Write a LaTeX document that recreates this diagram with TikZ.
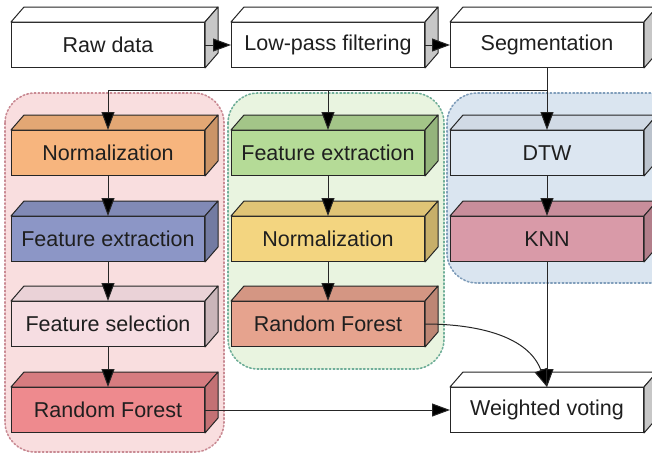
\documentclass[tikz,border=0pt]{standalone}
\usepackage{fontspec}
\setmainfont{Liberation Sans}
\usepackage{tikz}
\usetikzlibrary{arrows.meta}
\definecolor{nrmL}{HTML}{F7B57E}
\definecolor{fexL}{HTML}{8C96C6}
\definecolor{fselL}{HTML}{F6DDE2}
\definecolor{rfL}{HTML}{EE8A8E}
\definecolor{fexM}{HTML}{B5DB97}
\definecolor{nrmM}{HTML}{F3D580}
\definecolor{rfM}{HTML}{E6A38E}
\definecolor{dtwC}{HTML}{DCE6F1}
\definecolor{knnC}{HTML}{D99AA8}
\definecolor{grpRed}{HTML}{F9DEDF}
\definecolor{grpRedB}{HTML}{C98A93}
\definecolor{grpGreen}{HTML}{E9F4E0}
\definecolor{grpGreenB}{HTML}{6FAE98}
\definecolor{grpBlue}{HTML}{DAE5F0}
\definecolor{grpBlueB}{HTML}{7F9DBA}
\tikzset{
  cube/.style={draw=black!85, line width=1pt, fill=#1, minimum width=193pt,
    minimum height=45pt, inner sep=0pt, text=black!88,
    font=\fontsize{21.5}{24}\selectfont},
  face/.style={draw=black!85, line width=1pt, line join=round},
  group/.style={line width=1.6pt, dash pattern=on 1.6pt off 2.2pt, line cap=round, rounded corners=30pt},
  link/.style={->, line width=1pt, draw=black!85}
}

\begin{document}
\begin{tikzpicture}[x=1pt,y=-1pt,>={Triangle[length=18pt,width=13pt,fill=black]}]
\useasboundingbox (0,0) rectangle (652,456);
% groups
\draw [group, fill=grpRed, draw=grpRedB] (5,93) rectangle (224,452);
\draw [group, fill=grpGreen, draw=grpGreenB] (228,93) rectangle (444,369);
\draw [group, fill=grpBlue, draw=grpBlueB] (447,93) rectangle (680,283);
% top row
\node [cube=white] (raw) at (108,45) {Raw data};
\node [cube=white] (lowpass) at (328,45) {Low-pass filtering};
\node [cube=white] (seg) at (547,45) {Segmentation};
% left column
\node [cube=nrmL] (nrmA) at (108,153) {Normalization};
\node [cube=fexL] (fexA) at (108,239) {Feature extraction};
\node [cube=fselL] (fsel) at (108,324) {Feature selection};
\node [cube=rfL] (rfA) at (108,410) {Random Forest};
% middle column
\node [cube=fexM] (fexB) at (328,153) {Feature extraction};
\node [cube=nrmM] (nrmB) at (328,239) {Normalization};
\node [cube=rfM] (rfB) at (328,324) {Random Forest};
% right column
\node [cube=dtwC] (dtw) at (547,153) {DTW};
\node [cube=knnC] (knn) at (547,239) {KNN};
\node [cube=white] (vote) at (547,410) {Weighted voting};
% 3d faces
\foreach \n/\ct/\cs in {raw/white/black!22, lowpass/white/black!22, seg/white/black!22,
    nrmA/nrmL!92!black/nrmL!82!black, fexA/fexL!92!black/fexL!82!black,
    fsel/fselL!95!black/fselL!82!black, rfA/rfL!90!black/rfL!82!black,
    fexB/fexM!90!black/fexM!82!black, nrmB/nrmM!92!black/nrmM!82!black,
    rfB/rfM!92!black/rfM!82!black, dtw/dtwC!95!black/dtwC!85!black,
    knn/knnC!92!black/knnC!82!black, vote/white/black!22}{
  \draw [face, fill=\ct] (\n.north west) -- ([shift={(13,-15)}]\n.north west)
    -- ([shift={(13,-15)}]\n.north east) -- (\n.north east) -- cycle;
  \draw [face, fill=\cs] (\n.north east) -- ([shift={(13,-15)}]\n.north east)
    -- ([shift={(13,-15)}]\n.south east) -- (\n.south east) -- cycle;
}
% connectors
\coordinate (split) at (547,90);
\draw [link] (raw) -- (lowpass);
\draw [link] (lowpass) -- (seg);
\draw [link] (seg) -- (dtw);
\draw [link] (split) -| (nrmA);
\draw [link] (split -| fexB) -- (fexB);
\draw [link] (nrmA) -- (fexA);
\draw [link] (fexA) -- (fsel);
\draw [link] (fsel) -- (rfA);
\draw [link] (fexB) -- (nrmB);
\draw [link] (nrmB) -- (rfB);
\draw [link] (dtw) -- (knn);
\draw [link] (knn) -- (vote);
\draw [link] (rfA) -- (vote);
\draw [link] (rfB.east) to [out=0,in=110] (vote.north);
\end{tikzpicture}
\end{document}
